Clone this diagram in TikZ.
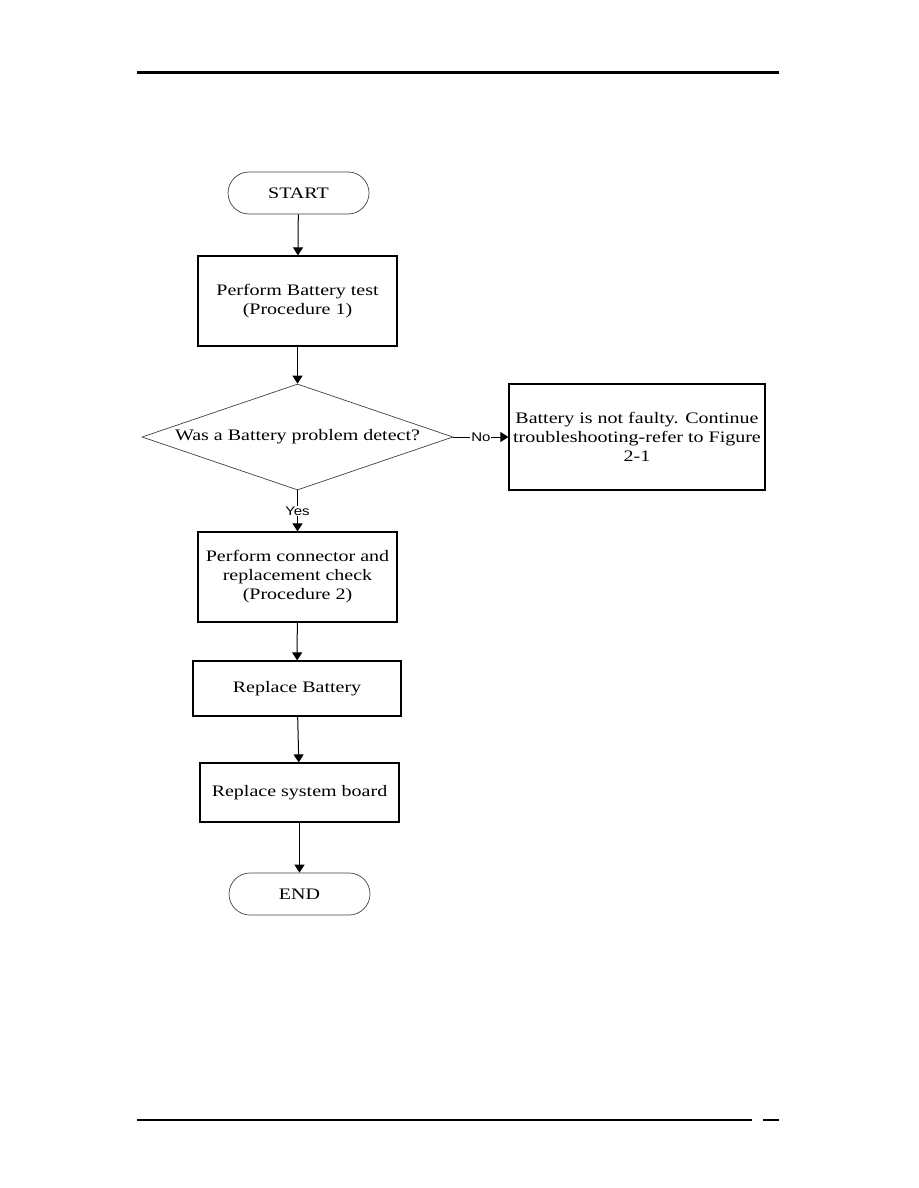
\documentclass[tikz,border=0pt]{standalone}
\usepackage{fontspec}
\setmainfont{Liberation Serif}[FakeStretch=1.25]
\setsansfont{Liberation Sans}
\newfontfamily\lblfont{Liberation Sans}[FakeStretch=1.2]
\usetikzlibrary{arrows.meta,shapes.geometric}
\begin{document}
\begin{tikzpicture}[x=1pt,y=-1pt,
  every node/.style={font=\fontsize{16}{19}\selectfont, align=center},
  box/.style={draw, line width=1.2pt, inner sep=2pt},
  term/.style={draw=black!75, line width=0.7pt, rounded corners=21pt, minimum width=141pt, minimum height=42pt},
  decision/.style={draw=black!75, line width=0.7pt, diamond, inner sep=1pt, shape aspect=2.93, minimum width=311pt, minimum height=106pt},
  conn/.style={line width=1pt, -{Triangle[length=8pt,width=10pt]}},
  lbl/.style={fill=white, inner sep=1pt, font=\lblfont\fontsize{12.5}{14}\selectfont},
  rulethick/.style={line width=3pt},
  rulethin/.style={line width=2.5pt}]
\useasboundingbox (0,0) rectangle (918,1188);
% page rules
\coordinate (t1) at (137,73);
\coordinate (t2) at (779,73);
\draw[rulethick] (t1) -- (t2);
\coordinate (b1l) at (137,1120);
\coordinate (b1r) at (752,1120);
\coordinate (b2l) at (763,1120);
\coordinate (b2r) at (779,1120);
\draw[rulethin] (b1l) -- (b1r);
\draw[rulethin] (b2l) -- (b2r);
% nodes
\node[term] (start) at (298.5,193) {START};
\node[box, minimum width=199pt, minimum height=90pt] (p1) at (297.5,301) {Perform Battery test\\(Procedure 1)};
\node[decision] (dec) at (297.5,437) {Was a Battery problem detect?};
\node[box, minimum width=256pt, minimum height=106pt] (nf) at (637,437) {Battery is not faulty. Continue\\troubleshooting-refer to Figure\\2-1};
\node[box, minimum width=199pt, minimum height=90pt] (p2) at (297.5,577) {Perform connector and\\replacement check\\(Procedure 2)};
\node[box, minimum width=208pt, minimum height=55pt] (rb) at (297,688.5) {Replace Battery};
\node[box, minimum width=199pt, minimum height=59pt] (rs) at (299.5,792.5) {Replace system board};
\node[term] (end) at (299.5,894) {END};
% connectors
\draw[conn] (start) -- (p1);
\draw[conn] (p1) -- (dec);
\draw[conn] (dec.east) -- node[lbl] {No} (nf.west);
\draw[conn] (dec.south) -- node[lbl] {Yes} (p2.north);
\draw[conn] (p2) -- (rb);
\draw[conn] (rb) -- (rs);
\draw[conn] (rs) -- (end);
\end{tikzpicture}
\end{document}
